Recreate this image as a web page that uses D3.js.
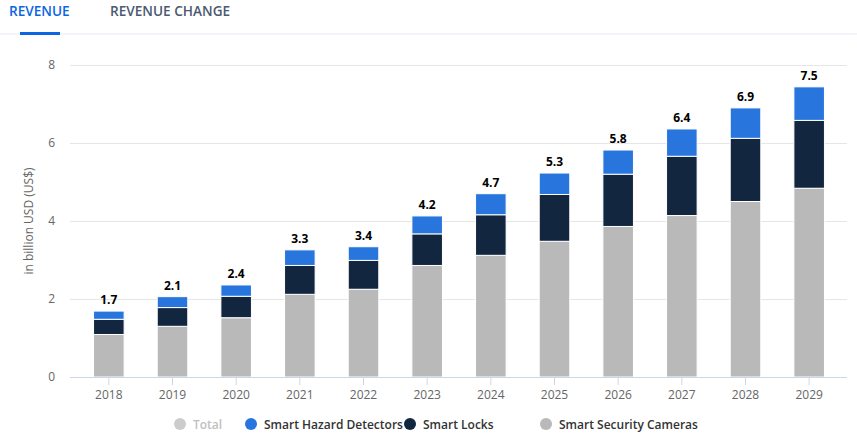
<!DOCTYPE html>
<html>
<head>
<meta charset="utf-8">
<script src="https://cdn.jsdelivr.net/npm/d3@7"></script>
<style>
  html, body { margin: 0; padding: 0; background: #fff; }
  svg { display: block; font-family: "Open Sans", "Noto Sans", sans-serif; }
</style>
</head>
<body>
<svg id="chart" width="857" height="439"></svg>
<script>
const years = ["2018","2019","2020","2021","2022","2023","2024","2025","2026","2027","2028","2029"];
const cameras = [1.09, 1.30, 1.52, 2.12, 2.25, 2.86, 3.12, 3.48, 3.86, 4.14, 4.50, 4.84];
const locks   = [0.39, 0.48, 0.55, 0.74, 0.74, 0.81, 1.04, 1.20, 1.34, 1.52, 1.62, 1.74];
const hazard  = [0.21, 0.28, 0.29, 0.40, 0.35, 0.46, 0.54, 0.55, 0.62, 0.70, 0.78, 0.86];
const totals  = [1.7, 2.1, 2.4, 3.3, 3.4, 4.2, 4.7, 5.3, 5.8, 6.4, 6.9, 7.5];
const yTicks  = [0, 2, 4, 6, 8];
const seriesNames = ["Smart Security Cameras", "Smart Locks", "Smart Hazard Detectors"];
const seriesColors = ["#b9b9b9", "#12263f", "#2876dd"];
const legendItems = ["Total", "Smart Hazard Detectors", "Smart Locks", "Smart Security Cameras"];
const legendColors = ["#cccccc", "#2876dd", "#12263f", "#b9b9b9"];

const svg = d3.select("#chart");

// Tabs
svg.append("rect").attr("x", 0).attr("y", 33).attr("width", 857).attr("height", 2).attr("fill", "#f1f4f8");
svg.append("rect").attr("x", 20).attr("y", 32).attr("width", 40).attr("height", 3).attr("fill", "#0b66e4");
svg.append("text").attr("x", 9).attr("y", 16).attr("font-size", 13.6).attr("font-weight", 600)
  .attr("fill", "#0b66e4").text("REVENUE");
svg.append("text").attr("x", 110).attr("y", 16).attr("font-size", 13.6).attr("font-weight", 600)
  .attr("fill", "#4a5970").text("REVENUE CHANGE");

// Scales
const x = d3.scaleBand().domain(years).range([77, 841]).paddingInner(0.52).paddingOuter(0.26);
const y = d3.scaleLinear().domain([0, 8]).range([377, 65]);

// Grid
svg.append("g").selectAll("line").data(yTicks.filter(d => d > 0)).join("line")
  .attr("x1", 70).attr("x2", 847)
  .attr("y1", d => Math.round(y(d)) + 0.5).attr("y2", d => Math.round(y(d)) + 0.5)
  .attr("stroke", "#e6e6e6").attr("stroke-width", 1);

// Y axis labels
const yAxis = svg.append("g").attr("transform", "translate(70,0)")
  .call(d3.axisLeft(y).tickValues(yTicks).tickSize(0).tickPadding(15));
yAxis.select(".domain").remove();
yAxis.selectAll("text").attr("font-size", 12).attr("fill", "#666").attr("font-family", "Open Sans, sans-serif");

svg.append("text").attr("transform", "translate(33,221) rotate(-90)")
  .attr("text-anchor", "middle").attr("font-size", 12).attr("fill", "#666")
  .text("in billion USD (US$)");

// Stacked bars
const rows = years.map((yr, i) => ({ year: yr, c: cameras[i], l: locks[i], h: hazard[i] }));
const stack = d3.stack().keys(["c", "l", "h"])(rows);
svg.append("g").selectAll("g").data(stack).join("g")
  .attr("fill", (d, i) => seriesColors[i])
  .selectAll("rect").data(d => d).join("rect")
  .attr("x", d => x(d.data.year))
  .attr("width", x.bandwidth())
  .attr("y", d => y(d[1]))
  .attr("height", d => y(d[0]) - y(d[1]))
  .attr("stroke", "#fff").attr("stroke-width", 1);

// X axis
const xAxis = svg.append("g").attr("transform", "translate(0,377)")
  .call(d3.axisBottom(x).tickSize(8).tickPadding(5));
xAxis.select(".domain").attr("d", "M70,0.5H847").attr("stroke", "#ccd6eb");
xAxis.selectAll(".tick line").attr("stroke", "#ccd6eb");
xAxis.selectAll("text").attr("font-size", 12).attr("fill", "#666").attr("font-family", "Open Sans, sans-serif");

// Total labels
svg.append("g").selectAll("text").data(rows).join("text")
  .attr("x", d => x(d.year) + x.bandwidth() / 2)
  .attr("y", (d, i) => y(d.c + d.l + d.h) - 7)
  .attr("text-anchor", "middle").attr("font-size", 12).attr("font-weight", 700)
  .attr("fill", "#000").text((d, i) => totals[i]);

// Legend
const legendX = [180, 251, 410, 546];
const lg = svg.append("g").selectAll("g").data(legendItems).join("g")
  .attr("transform", (d, i) => `translate(${legendX[i]},424)`);
lg.append("circle").attr("r", 6).attr("fill", (d, i) => legendColors[i]);
lg.append("text").attr("x", 13).attr("y", 4.5).attr("font-size", 12).attr("font-weight", 600)
  .attr("fill", (d, i) => i === 0 ? "#c0c0c0" : "#333").text(d => d);
</script>
</body>
</html>
